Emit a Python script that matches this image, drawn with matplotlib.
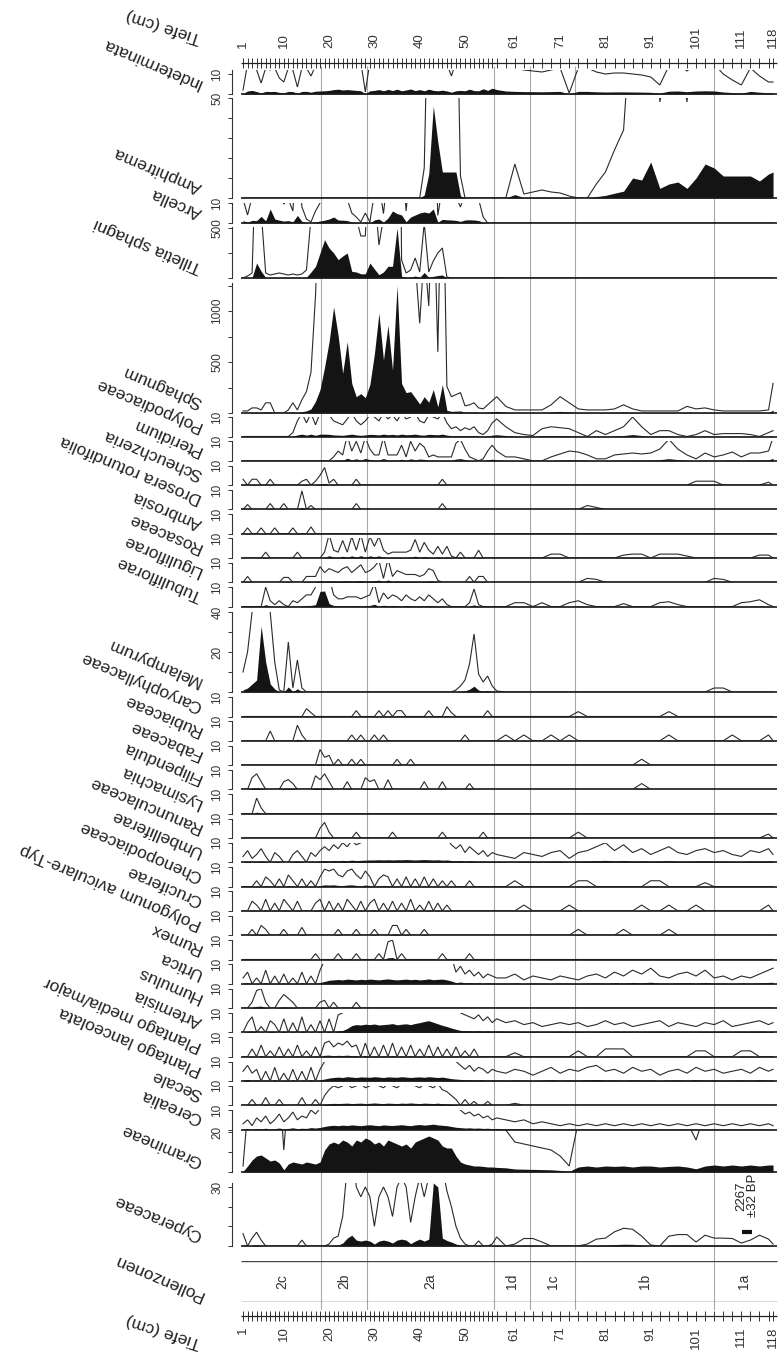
import numpy as np
import matplotlib
matplotlib.use("Agg")
import matplotlib.pyplot as plt

plt.rcParams['font.family'] = ['Liberation Sans', 'DejaVu Sans']

# ---------------- data ----------------
DEPTHS = list(range(1, 58)) + list(range(59, 118, 2)) + [118]
DEPTH_LABELS = [1, 10, 20, 30, 40, 50, 61, 71, 81, 91, 101, 111, 118]
ZONE_BOUNDS = [18.3, 28.4, 56.4, 64.4, 74.3, 105.0]
ZONE_NAMES = ['2c', '2b', '2a', '1d', '1c', '1b', '1a']
EXAG = 10

INDETERMINATA = {1: 0.2, 2: 1.5, 3: 1.8, 4: 1.2, 5: 0.55, 6: 1.3, 7: 1.2, 8: 1.3, 9: 0.8, 10: 0.6,
                 11: 1.3, 12: 1.2, 13: 0.35, 14: 1.3, 15: 1.3, 16: 0.9, 17: 1.4, 18: 1.5, 19: 1.6,
                 20: 1.8, 21: 2.2, 22: 2.4, 23: 2.0, 24: 2.2, 25: 2.0, 26: 1.8, 27: 1.6, 28: 0.1,
                 29: 1.6, 30: 1.8, 31: 2.2, 32: 1.6, 33: 2.3, 34: 1.7, 35: 2.4, 36: 1.6, 37: 2.0,
                 38: 2.5, 39: 1.7, 40: 2.2, 41: 1.6, 42: 2.4, 43: 1.8, 44: 1.6, 45: 1.9, 46: 1.5,
                 47: 0.9, 48: 1.6, 49: 1.8, 50: 1.6, 51: 2.4, 52: 1.7, 53: 1.6, 54: 2.6, 55: 1.8,
                 56: 2.9, 57: 2.2, 59: 1.5, 61: 1.3, 63: 1.2, 65: 1.15, 67: 1.1, 69: 1.2, 71: 1.3,
                 73: 0.05, 75: 1.3, 77: 1.3, 79: 1.1, 81: 1.0, 83: 1.05, 85: 1.05, 87: 1.0, 89: 0.95,
                 91: 0.85, 93: 0.45, 95: 1.4, 97: 1.5, 99: 1.15, 101: 1.5, 103: 1.6, 105: 1.5,
                 107: 1.0, 109: 0.7, 111: 0.45, 113: 1.3, 115: 0.9, 117: 0.6, 118: 0.6}
AMPHITREMA = {41: 1.5, 42: 12, 43: 46, 44: 28, 45: 13, 46: 13, 47: 13, 48: 13, 49: 1.1,
              61: 1.7, 63: 0.2, 65: 0.3, 67: 0.4, 69: 0.3, 71: 0.25, 73: 0.1,
              79: 0.7, 81: 1.3, 83: 2.4, 85: 3.4, 87: 10, 89: 9, 91: 18, 93: 4.8, 95: 7, 97: 8,
              99: 4.8, 101: 10, 103: 17, 105: 15, 107: 11, 109: 11, 111: 11, 113: 11, 115: 8.5,
              117: 12, 118: 13}
ARCELLA = {1: 1.2, 2: 0.4, 3: 1.3, 4: 1.2, 5: 3.3, 6: 1.1, 7: 7, 8: 2, 9: 1.4, 10: 0.95,
           11: 1.2, 12: 0.6, 13: 3.8, 14: 0.8, 15: 0.2, 16: 0.05, 17: 0.6, 18: 1.0, 19: 1.4,
           20: 2, 21: 3, 22: 1.5, 23: 1.4, 24: 1.2, 25: 0.5, 26: 0.3, 27: 0.05, 28: 0.5, 29: 0.05,
           30: 1.5, 31: 2, 32: 0.47, 33: 2.5, 34: 6, 35: 4.7, 36: 4, 37: 0.6, 38: 3, 39: 4,
           40: 5, 41: 5.5, 42: 5, 43: 7, 44: 0.38, 45: 1.8, 46: 1.6, 47: 1.5, 48: 1.3, 49: 0.8,
           50: 1.5, 51: 1.6, 52: 1.5, 53: 1.2, 54: 0.3}
TILLETIA = {2: 2, 3: 5, 4: 150, 5: 67, 6: 5, 7: 3, 8: 4, 9: 5, 10: 4, 11: 3, 12: 4, 13: 3,
            14: 4, 15: 8, 16: 60, 17: 117, 18: 250, 19: 383, 20: 300, 21: 250, 22: 183, 23: 220,
            24: 250, 25: 67, 26: 60, 27: 42, 28: 42, 29: 150, 30: 90, 31: 33, 32: 60, 33: 117,
            34: 117, 35: 500, 36: 18, 37: 5, 38: 8, 39: 20, 40: 6, 41: 55, 42: 6, 43: 17,
            44: 25, 45: 30, 46: 1, 57: 0.5}
SPHAGNUM = {1: 2, 2: 2, 3: 5, 4: 5, 5: 3, 6: 10, 7: 10, 8: 0, 11: 3, 12: 10, 13: 3, 14: 13,
            15: 21, 16: 40, 17: 115, 18: 230, 19: 450, 20: 700, 21: 1040, 22: 760, 23: 390,
            24: 700, 25: 290, 26: 160, 27: 190, 28: 150, 29: 280, 30: 580, 31: 980, 32: 520,
            33: 860, 34: 420, 35: 1250, 36: 290, 37: 200, 38: 210, 39: 150, 40: 88, 41: 160,
            42: 105, 43: 230, 44: 60, 45: 280, 46: 26, 47: 16, 48: 18, 49: 20, 50: 7, 51: 8,
            52: 10, 53: 5, 54: 4, 55: 8, 56: 12, 57: 16, 59: 6.5, 61: 3, 63: 3, 65: 3, 67: 3,
            69: 8, 71: 16, 73: 10, 75: 4, 77: 3, 79: 3, 81: 3, 83: 4, 85: 8, 87: 4, 89: 2,
            91: 2, 93: 2, 95: 2, 97: 2, 99: 6.5, 101: 4, 103: 5, 105: 3, 107: 2, 109: 2, 111: 2,
            113: 2, 115: 2, 117: 3, 118: 29}
POLYPODIACEAE = {12: 0.2, 13: 0.8, 14: 1.2, 15: 0.7, 16: 1.2, 17: 0.6, 18: 1.2, 19: 1.2,
                 20: 1.1, 21: 0.8, 22: 0.7, 23: 0.6, 24: 0.9, 25: 1.2, 26: 0.8, 27: 0.6, 28: 0.8,
                 29: 1.1, 30: 1.0, 31: 0.8, 32: 1.2, 33: 0.9, 34: 1.1, 35: 0.8, 36: 1.2, 37: 0.9,
                 38: 1.0, 39: 1.2, 40: 0.8, 41: 0.7, 42: 1.1, 43: 1.0, 44: 0.9, 45: 1.2, 46: 0.7,
                 47: 0.4, 48: 0.5, 49: 0.3, 50: 0.45, 51: 0.35, 52: 0.5, 53: 0.2, 54: 0.1,
                 55: 0.3, 56: 0.7, 57: 0.9, 59: 0.5, 61: 0.2, 63: 0.1, 65: 0.05, 67: 0.4,
                 69: 0.5, 71: 0.45, 73: 0.4, 75: 0.2, 79: 0.3, 81: 0.1, 83: 0.3, 85: 0.5,
                 87: 1.0, 89: 0.5, 91: 0.1, 93: 0.3, 95: 0.3, 97: 0.1, 101: 0.1, 103: 0.3,
                 105: 0.1, 107: 0.15, 109: 0.15, 111: 0.15, 113: 0.1, 117: 0.2, 118: 0.3}
PTERIDIUM = {21: 0.2, 22: 0.5, 23: 0.3, 24: 1.3, 25: 0.5, 26: 1.0, 27: 0.4, 28: 1.2, 29: 0.6,
             30: 0.3, 31: 0.3, 32: 1.2, 33: 0.3, 34: 0.3, 35: 0.3, 36: 0.8, 37: 0.2, 38: 1.0,
             39: 0.5, 40: 0.9, 41: 0.7, 42: 0.2, 43: 0.3, 44: 0.2, 45: 0.2, 46: 0.2, 47: 0.2,
             48: 0.9, 49: 1.1, 50: 0.6, 51: 0.2, 52: 0.1, 54: 0.1, 55: 0.5, 56: 0.8, 57: 0.5,
             59: 0.2, 61: 0.2, 63: 0.1, 69: 0.2, 71: 0.35, 73: 0.5, 75: 0.45, 77: 0.3, 79: 0.1,
             81: 0.1, 83: 0.3, 85: 0.35, 87: 0.4, 89: 0.35, 91: 0.4, 93: 0.6, 95: 1.1, 97: 0.6,
             99: 0.3, 101: 0.1, 103: 0.4, 105: 0.2, 107: 0.3, 109: 0.45, 111: 0.2, 113: 0.4,
             115: 0.4, 117: 0.5, 118: 1.2}
SCHEUCHZERIA = {1: 0.3, 3: 0.3, 4: 0.3, 7: 0.3, 14: 0.2, 15: 0.3, 17: 0.2, 18: 0.5, 19: 0.9,
                20: 0.1, 21: 0.3, 26: 0.3, 45: 0.3, 101: 0.2, 103: 0.2, 105: 0.2, 117: 0.15}
DROSERA = {2: 0.25, 7: 0.3, 10: 0.3, 14: 0.95, 16: 0.2, 26: 0.3, 45: 0.3, 77: 0.2, 79: 0.1}
AMBROSIA = {2: 0.3, 5: 0.3, 8: 0.3, 12: 0.3, 16: 0.35}
ROSACEAE = {6: 0.3, 13: 0.3, 19: 0.3, 20: 1.2, 21: 0.4, 22: 0.3, 23: 0.9, 24: 0.3, 25: 1.1,
            26: 0.4, 27: 1.2, 28: 0.3, 29: 1.1, 30: 0.6, 31: 1.1, 32: 0.4, 33: 0.2, 34: 0.3,
            35: 0.3, 36: 0.3, 37: 0.3, 38: 0.4, 39: 0.95, 40: 0.3, 41: 0.8, 42: 0.4, 43: 0.2,
            44: 0.6, 45: 0.2, 46: 0.6, 47: 0.1, 49: 0.3, 53: 0.4, 69: 0.2, 71: 0.2, 85: 0.15,
            87: 0.2, 89: 0.2, 93: 0.2, 95: 0.2, 97: 0.2, 99: 0.1, 115: 0.15, 117: 0.15}
LIGULIFLORAE = {2: 0.3, 10: 0.25, 11: 0.25, 15: 0.3, 16: 0.3, 17: 0.3, 18: 0.8, 19: 0.5,
                20: 0.7, 21: 0.6, 22: 0.5, 23: 0.7, 24: 0.8, 25: 0.5, 26: 0.7, 27: 0.9, 28: 0.5,
                29: 0.6, 30: 0.8, 31: 1.1, 32: 0.2, 33: 1.2, 34: 0.3, 35: 0.6, 36: 0.5, 37: 0.4,
                38: 0.4, 39: 0.4, 40: 0.3, 41: 0.4, 42: 0.7, 43: 0.6, 44: 0.1, 51: 0.3, 53: 0.3,
                54: 0.3, 77: 0.2, 79: 0.15, 105: 0.2, 107: 0.15}
TUBULIFLORAE = {6: 1.0, 7: 0.3, 8: 0.1, 9: 0.3, 10: 0.1, 12: 0.3, 13: 0.2, 14: 0.4, 15: 0.6,
                16: 0.6, 17: 1.0, 18: 7.8, 19: 8.0, 20: 1.5, 21: 0.6, 22: 0.4, 23: 0.4, 24: 0.5,
                25: 0.5, 26: 0.5, 27: 0.4, 28: 0.5, 29: 0.6, 30: 1.2, 31: 0.2, 32: 0.7, 33: 0.4,
                34: 0.6, 35: 0.5, 36: 0.3, 37: 0.6, 38: 0.4, 39: 0.3, 40: 0.5, 41: 0.3, 42: 0.6,
                43: 0.4, 44: 0.2, 45: 0.4, 46: 0.1, 51: 0.2, 52: 0.9, 53: 0.1, 61: 0.2, 63: 0.2,
                67: 0.2, 73: 0.2, 75: 0.3, 77: 0.1, 85: 0.15, 93: 0.2, 95: 0.25, 97: 0.1,
                111: 0.2, 113: 0.25, 115: 0.35, 117: 0.1}
MELAMPYRUM = {1: 1, 2: 2, 3: 4, 4: 6, 5: 33, 6: 15, 7: 4, 8: 1.5, 9: 0.1, 11: 2.5, 12: 0.2,
              13: 1.6, 14: 0.2, 48: 0.1, 49: 0.3, 50: 0.6, 51: 1.4, 52: 2.9, 53: 0.9, 54: 0.5,
              55: 0.8, 56: 0.3, 57: 0.05, 105: 0.2, 107: 0.2}
CARYOPHYLLACEAE = {15: 0.4, 16: 0.2, 26: 0.3, 31: 0.3, 33: 0.3, 35: 0.3, 36: 0.3, 42: 0.3,
                   46: 0.5, 47: 0.2, 55: 0.3, 75: 0.25, 95: 0.25}
RUBIACEAE = {7: 0.5, 13: 0.8, 14: 0.3, 25: 0.3, 27: 0.3, 30: 0.3, 32: 0.3, 50: 0.3, 59: 0.3,
             63: 0.3, 69: 0.3, 73: 0.3, 95: 0.3, 109: 0.3, 117: 0.3}
FABACEAE = {18: 0.8, 19: 0.4, 20: 0.5, 22: 0.3, 25: 0.3, 27: 0.3, 35: 0.3, 38: 0.3, 89: 0.3}
FILIPENDULA = {3: 0.6, 4: 0.8, 5: 0.4, 10: 0.4, 11: 0.5, 12: 0.3, 17: 0.7, 18: 0.5, 19: 0.8,
               20: 0.4, 24: 0.4, 28: 0.6, 29: 0.4, 30: 0.5, 33: 0.5, 41: 0.4, 45: 0.4, 51: 0.3,
               89: 0.3}
LYSIMACHIA = {4: 0.8, 5: 0.3}
RANUNCULACEAE = {18: 0.5, 19: 0.8, 20: 0.3, 26: 0.3, 34: 0.3, 45: 0.3, 54: 0.3, 75: 0.3, 117: 0.2}
UMBELLIFERAE = {1: 0.3, 2: 0.6, 3: 0.2, 4: 0.4, 5: 0.7, 6: 0.3, 8: 0.5, 9: 0.3, 12: 0.4,
                13: 0.6, 14: 0.3, 16: 0.5, 17: 0.3, 18: 0.6, 19: 0.8, 20: 0.6, 21: 0.9, 22: 0.7,
                23: 1.0, 24: 0.8, 25: 1.1, 26: 0.9, 27: 1.0, 28: 1.1, 29: 1.2, 30: 1.2, 31: 1.3,
                32: 1.2, 33: 1.3, 34: 1.2, 35: 1.3, 36: 1.3, 37: 1.4, 38: 1.3, 39: 1.2, 40: 1.3,
                41: 1.4, 42: 1.3, 43: 1.2, 44: 1.3, 45: 1.1, 46: 1.2, 47: 0.9, 48: 0.7, 49: 0.9,
                50: 0.5, 51: 0.8, 52: 0.6, 53: 0.4, 54: 0.6, 55: 0.3, 56: 0.5, 57: 0.4, 59: 0.3,
                61: 0.2, 63: 0.5, 65: 0.4, 67: 0.3, 69: 0.5, 71: 0.6, 73: 0.2, 75: 0.5, 77: 0.6,
                79: 0.8, 81: 1.0, 83: 0.6, 85: 0.9, 87: 0.5, 89: 0.7, 91: 0.4, 93: 0.6, 95: 0.8,
                97: 0.5, 99: 0.4, 101: 0.6, 103: 0.7, 105: 0.5, 107: 0.6, 109: 0.4, 111: 0.3,
                113: 0.6, 115: 0.5, 117: 0.7, 118: 0.4}
CHENOPODIACEAE = {4: 0.3, 6: 0.5, 7: 0.3, 9: 0.4, 11: 0.6, 12: 0.3, 14: 0.4, 16: 0.3, 18: 0.5,
                  19: 0.9, 20: 0.8, 21: 0.9, 22: 0.6, 23: 0.5, 24: 0.8, 25: 0.9, 26: 0.6,
                  27: 0.4, 28: 0.8, 29: 0.5, 31: 0.4, 32: 0.6, 33: 0.5, 35: 0.4, 37: 0.5,
                  39: 0.4, 41: 0.5, 43: 0.4, 45: 0.3, 47: 0.3, 51: 0.3, 61: 0.3, 75: 0.3,
                  77: 0.3, 91: 0.3, 93: 0.3, 103: 0.2}
CRUCIFERAE = {3: 0.5, 4: 0.3, 6: 0.6, 8: 0.4, 10: 0.6, 11: 0.3, 13: 0.5, 17: 0.4, 18: 0.6,
              20: 0.5, 22: 0.4, 24: 0.6, 25: 0.3, 27: 0.5, 29: 0.4, 30: 0.6, 32: 0.4, 34: 0.5,
              36: 0.4, 38: 0.6, 40: 0.3, 42: 0.5, 44: 0.4, 46: 0.3, 63: 0.3, 73: 0.3, 89: 0.3,
              95: 0.3, 101: 0.3, 117: 0.3}
POLYGONUM = {3: 0.3, 5: 0.5, 6: 0.3, 10: 0.3, 14: 0.4, 22: 0.3, 26: 0.3, 30: 0.3, 34: 0.5,
             35: 0.5, 37: 0.3, 41: 0.3, 75: 0.3, 85: 0.3, 95: 0.3}
RUMEX = {17: 0.3, 22: 0.3, 26: 0.3, 31: 0.3, 33: 0.9, 34: 1.0, 36: 0.3, 45: 0.3, 51: 0.3}
URTICA = {1: 0.3, 2: 0.6, 4: 0.3, 6: 0.7, 8: 0.4, 10: 0.5, 12: 0.3, 14: 0.6, 16: 0.4, 18: 0.7,
          19: 1.2, 20: 1.8, 21: 2.0, 22: 2.2, 23: 2.0, 24: 2.4, 25: 2.2, 26: 2.0, 27: 2.3,
          28: 2.1, 29: 2.4, 30: 2.2, 31: 2.0, 32: 2.3, 33: 2.5, 34: 2.2, 35: 2.0, 36: 2.2,
          37: 2.4, 38: 2.1, 39: 2.3, 40: 2.0, 41: 2.2, 42: 2.5, 43: 2.1, 44: 2.3, 45: 2.4,
          46: 2.0, 47: 1.4, 48: 0.6, 49: 0.9, 50: 0.5, 51: 0.7, 52: 0.4, 53: 0.6, 54: 0.3,
          55: 0.5, 56: 0.4, 57: 0.3, 59: 0.3, 61: 0.5, 63: 0.2, 65: 0.4, 67: 0.3, 69: 0.2,
          71: 0.4, 73: 0.3, 75: 0.2, 77: 0.4, 79: 0.5, 81: 0.3, 83: 0.6, 85: 0.4, 87: 0.7,
          89: 0.5, 91: 0.8, 93: 0.4, 95: 0.3, 97: 0.5, 99: 0.6, 101: 0.4, 103: 0.7, 105: 0.3,
          107: 0.4, 109: 0.2, 111: 0.4, 113: 0.3, 115: 0.5, 117: 0.7, 118: 0.8}
HUMULUS = {3: 0.3, 4: 0.9, 5: 1.0, 6: 0.3, 9: 0.4, 10: 0.7, 11: 0.5, 12: 0.3, 18: 0.3,
           19: 0.4, 21: 0.3, 26: 0.3}
ARTEMISIA = {2: 0.5, 3: 0.8, 5: 0.3, 7: 0.6, 8: 0.4, 10: 0.7, 12: 0.5, 14: 0.8, 16: 0.4,
             18: 0.6, 20: 0.7, 22: 0.9, 23: 1.0, 24: 2.0, 25: 3.5, 26: 4.0, 27: 3.8, 28: 4.2,
             29: 4.0, 30: 4.3, 31: 3.8, 32: 4.0, 33: 4.2, 34: 4.5, 35: 3.9, 36: 4.2, 37: 4.4,
             38: 4.0, 39: 4.6, 40: 5.0, 41: 5.6, 42: 6.0, 43: 5.2, 44: 4.4, 45: 3.6, 46: 3.0,
             47: 2.2, 48: 1.6, 49: 1.0, 50: 0.9, 51: 0.8, 52: 0.7, 53: 0.9, 54: 0.6, 55: 0.8,
             56: 0.5, 57: 0.7, 59: 0.5, 61: 0.6, 63: 0.4, 65: 0.5, 67: 0.3, 69: 0.4, 71: 0.5,
             73: 0.4, 75: 0.5, 77: 0.3, 79: 0.4, 81: 0.6, 83: 0.4, 85: 0.5, 87: 0.3, 89: 0.4,
             91: 0.5, 93: 0.6, 95: 0.3, 97: 0.5, 99: 0.4, 101: 0.3, 103: 0.5, 105: 0.4,
             107: 0.6, 109: 0.3, 111: 0.4, 113: 0.5, 115: 0.6, 117: 0.4, 118: 0.5}
PLANTAGO_MEDIA = {3: 0.4, 5: 0.6, 7: 0.3, 9: 0.5, 11: 0.4, 13: 0.6, 15: 0.3, 17: 0.5, 19: 0.7,
                  20: 0.8, 21: 0.5, 22: 0.7, 23: 0.6, 24: 0.8, 25: 0.5, 26: 0.6, 28: 0.7,
                  30: 0.5, 32: 0.6, 34: 0.7, 36: 0.5, 38: 0.6, 40: 0.4, 42: 0.6, 44: 0.5,
                  46: 0.4, 48: 0.5, 50: 0.3, 52: 0.4, 61: 0.2, 75: 0.3, 81: 0.4, 83: 0.4,
                  85: 0.4, 101: 0.3, 103: 0.3, 111: 0.3, 113: 0.3}
PLANTAGO_LANC = {1: 0.5, 2: 0.8, 3: 0.4, 4: 0.6, 6: 0.5, 8: 0.7, 10: 0.4, 12: 0.6, 14: 0.5,
                 16: 0.7, 18: 0.6, 19: 1.0, 20: 1.5, 21: 1.8, 22: 2.0, 23: 1.8, 24: 2.2,
                 25: 2.0, 26: 1.8, 27: 2.1, 28: 2.0, 29: 1.9, 30: 2.2, 31: 2.0, 32: 1.8,
                 33: 2.1, 34: 2.0, 35: 1.9, 36: 2.2, 37: 2.0, 38: 1.8, 39: 2.0, 40: 2.1,
                 41: 1.9, 42: 2.2, 43: 2.0, 44: 1.8, 45: 2.0, 46: 1.6, 47: 1.2, 48: 1.0,
                 49: 0.8, 50: 0.6, 51: 0.8, 52: 0.5, 53: 0.7, 54: 0.6, 55: 0.4, 56: 0.6,
                 57: 0.5, 59: 0.4, 61: 0.6, 63: 0.5, 65: 0.3, 67: 0.5, 69: 0.7, 71: 0.4,
                 73: 0.6, 75: 0.5, 77: 0.7, 79: 0.8, 81: 0.5, 83: 0.6, 85: 0.4, 87: 0.7,
                 89: 0.5, 91: 0.6, 93: 0.3, 95: 0.5, 97: 0.6, 99: 0.4, 101: 0.7, 103: 0.5,
                 105: 0.6, 107: 0.4, 109: 0.5, 111: 0.6, 113: 0.4, 115: 0.7, 117: 0.5, 118: 0.6}
SECALE = {3: 0.3, 6: 0.4, 9: 0.3, 14: 0.4, 17: 0.3, 19: 0.5, 20: 0.8, 21: 1.0, 22: 0.9,
          23: 1.0, 24: 1.1, 25: 0.9, 26: 1.0, 27: 1.1, 28: 0.9, 29: 1.0, 30: 1.2, 31: 1.0,
          32: 0.9, 33: 1.1, 34: 1.0, 35: 0.9, 36: 1.1, 37: 1.0, 38: 1.2, 39: 1.0, 40: 0.9,
          41: 1.1, 42: 1.0, 43: 0.9, 44: 1.1, 45: 0.8, 46: 0.7, 47: 0.5, 48: 0.3, 50: 0.3,
          52: 0.2, 55: 0.2, 61: 0.1}
CEREALIA = {1: 0.3, 2: 0.5, 3: 0.2, 4: 0.6, 5: 0.4, 6: 0.7, 7: 0.3, 8: 0.5, 9: 0.8, 10: 0.4,
            11: 0.6, 12: 0.9, 13: 0.5, 14: 0.7, 15: 0.6, 16: 1.0, 17: 0.8, 18: 1.1, 19: 1.6,
            20: 2.0, 21: 2.2, 22: 2.0, 23: 2.3, 24: 2.1, 25: 2.4, 26: 2.2, 27: 2.0, 28: 2.3,
            29: 2.5, 30: 2.2, 31: 2.0, 32: 2.4, 33: 2.2, 34: 2.1, 35: 2.3, 36: 2.5, 37: 2.2,
            38: 2.0, 39: 2.4, 40: 2.6, 41: 2.3, 42: 2.5, 43: 2.8, 44: 2.4, 45: 2.2, 46: 2.0,
            47: 1.6, 48: 1.2, 49: 1.0, 50: 0.8, 51: 0.9, 52: 0.7, 53: 0.8, 54: 0.6, 55: 0.7,
            56: 0.5, 57: 0.6, 59: 0.5, 61: 0.4, 63: 0.5, 65: 0.3, 67: 0.4, 69: 0.3, 71: 0.2,
            73: 0.3, 75: 0.2, 77: 0.3, 79: 0.2, 81: 0.3, 83: 0.2, 85: 0.3, 87: 0.2, 89: 0.3,
            91: 0.2, 93: 0.3, 95: 0.2, 97: 0.3, 99: 0.2, 101: 0.3, 103: 0.2, 105: 0.3,
            107: 0.2, 109: 0.3, 111: 0.2, 113: 0.3, 115: 0.2, 117: 0.3, 118: 0.2}
GRAMINEAE = {1: 0.3, 2: 3, 3: 6, 4: 8, 5: 8.5, 6: 7, 7: 5.5, 8: 6, 9: 4.5, 10: 1.1, 11: 4,
             12: 5, 13: 4.5, 14: 4, 15: 5, 16: 4.5, 17: 4, 18: 5, 19: 11, 20: 14, 21: 15,
             22: 14, 23: 16, 24: 15, 25: 13, 26: 16, 27: 15, 28: 17, 29: 16, 30: 14, 31: 15,
             32: 13, 33: 16, 34: 15, 35: 14, 36: 13, 37: 14, 38: 12, 39: 15, 40: 16, 41: 17,
             42: 18, 43: 17, 44: 16, 45: 13, 46: 12, 47: 12, 48: 8, 49: 5, 50: 4, 51: 3.5,
             52: 3, 53: 3, 54: 2.8, 55: 2.5, 56: 2.5, 57: 2.3, 59: 2.1, 61: 1.5, 63: 1.4,
             65: 1.3, 67: 1.2, 69: 1.1, 71: 0.8, 73: 0.3, 75: 2.5, 77: 3, 79: 2.5, 81: 3,
             83: 2.8, 85: 3, 87: 2.5, 89: 3, 91: 3, 93: 2.5, 95: 2.8, 97: 3, 99: 2.5, 101: 1.6,
             103: 3, 105: 3.5, 107: 3, 109: 3.5, 111: 3, 113: 3.5, 115: 3, 117: 3.5, 118: 3.5}
CYPERACEAE = {1: 0.63, 3: 0.4, 4: 0.7, 5: 0.3, 14: 0.3, 20: 0.1, 21: 0.4, 22: 0.5, 23: 1.5,
              24: 4.0, 25: 5.5, 26: 3, 27: 2.5, 28: 3.0, 29: 2.5, 30: 1.0, 31: 2.5, 32: 3.0,
              33: 2.5, 34: 1.5, 35: 3, 36: 3.5, 37: 3, 38: 1.2, 39: 2.5, 40: 3.5, 41: 2.5,
              42: 3.5, 43: 32, 44: 30, 45: 4, 46: 2.8, 47: 2, 48: 1, 49: 0.4, 50: 0.1, 53: 0.26,
              56: 0.1, 57: 0.46, 61: 0.1, 63: 0.38, 65: 0.38, 67: 0.2, 77: 0.1, 79: 0.35,
              81: 0.4, 83: 0.72, 85: 0.9, 87: 0.85, 89: 0.5, 91: 0.05, 95: 0.5, 97: 0.58,
              99: 0.58, 101: 0.2, 103: 0.55, 105: 0.4, 107: 0.4, 109: 0.38, 111: 0.15,
              113: 0.3, 115: 0.55, 117: 0.35, 118: 0.1}
DATE_LABEL = "2267\n±32 BP"
DATE_DEPTH = (111.2, 113.4)

# ---------------- layout (pixels) ----------------
W, H = 779, 1357
XLIM = (-1.5, 119.4)
X0, X1 = 231.7, 779.4

fig = plt.figure(figsize=(W / 100, H / 100), dpi=100)


def px_axes(top, base, **kw):
    return fig.add_axes([X0 / W, 1 - base / H, (X1 - X0) / W, max(base - top, 0.01) / H], **kw)


def series(spec):
    return np.array([spec.get(d, 0.0) for d in DEPTHS], dtype=float)


LABEL_KW = dict(rotation=157, rotation_mode='anchor', ha='left', va='center', fontsize=12.5,
                color='#222')

# zone lines (background)
ov = px_axes(66, 1310, zorder=0)
ov.set_xlim(*XLIM)
ov.set_ylim(0, 1)
ov.axis('off')
ov.vlines(ZONE_BOUNDS, 0, 1, color='#a8a8a8', lw=0.8)

panels = [
    ("Indeterminata", INDETERMINATA, 70, 94, 12, [0, 10], ['', '10']),
    ("Amphitrema", AMPHITREMA, 98, 198, 50, [0, 10, 20, 30, 40, 50], ['', '', '', '', '', '50']),
    ("Arcella", ARCELLA, 203, 223, 10, [0, 10], ['', '10']),
    ("Tilletia sphagni", TILLETIA, 227, 278, 510, [0, 250, 500], ['', '', '500']),
    ("Sphagnum", SPHAGNUM, 283, 413, 1275, [0, 250, 500, 750, 1000, 1250], ['', '', '500', '', '1000', '']),
]
group_a = [("Polypodiaceae", POLYPODIACEAE), ("Pteridium", PTERIDIUM),
           ("Scheuchzeria", SCHEUCHZERIA), ("Drosera rotundifolia", DROSERA),
           ("Ambrosia", AMBROSIA), ("Rosaceae", ROSACEAE), ("Liguliflorae", LIGULIFLORAE),
           ("Tubuliflorae", TUBULIFLORAE)]
for i, (n, dat) in enumerate(group_a):
    t = 417 + i * 24.3
    panels.append((n, dat, t, t + 19.5, 10, [0, 10], ['', '10']))
panels.append(("Melampyrum", MELAMPYRUM, 612, 692, 40, [0, 10, 20, 30, 40], ['', '', '20', '', '40']))
group_b = [("Caryophyllaceae", CARYOPHYLLACEAE), ("Rubiaceae", RUBIACEAE),
           ("Fabaceae", FABACEAE), ("Filipendula", FILIPENDULA), ("Lysimachia", LYSIMACHIA),
           ("Ranunculaceae", RANUNCULACEAE), ("Umbelliferae", UMBELLIFERAE),
           ("Chenopodiaceae", CHENOPODIACEAE), ("Cruciferae", CRUCIFERAE),
           ("Polygonum aviculare-Typ", POLYGONUM), ("Rumex", RUMEX), ("Urtica", URTICA),
           ("Humulus", HUMULUS), ("Artemisia", ARTEMISIA),
           ("Plantago media/major", PLANTAGO_MEDIA), ("Plantago lanceolata", PLANTAGO_LANC),
           ("Secale", SECALE), ("Cerealia", CEREALIA)]
for i, (n, dat) in enumerate(group_b):
    t = 697 + i * 24.3
    panels.append((n, dat, t, t + 19.5, 10, [0, 10], ['', '10']))
panels.append(("Gramineae", GRAMINEAE, 1130, 1172, 21, [0, 10, 20], ['', '', '20']))
panels.append(("Cyperaceae", CYPERACEAE, 1183, 1246, 32, [0, 10, 20, 30], ['', '', '', '30']))

d = np.array(DEPTHS, dtype=float)
axes_by_name = {}
for name, dat, top, base, ymax, ticks, tlabels in panels:
    ax = px_axes(top, base, zorder=2)
    ax.patch.set_alpha(0)
    v = series(dat)
    ax.set_xlim(*XLIM)
    ax.set_ylim(0, ymax)
    ax.fill_between(d, 0, v, color='#141414', lw=0)
    ax.plot(d, v * EXAG, color='#2a2a2a', lw=0.8, solid_joinstyle='miter')
    ax.hlines(0, 0.6, 118.9, color='#1a1a1a', lw=1.2, clip_on=False)
    for s in ('top', 'right', 'bottom'):
        ax.spines[s].set_visible(False)
    ax.spines['left'].set_linewidth(0.8)
    ax.spines['left'].set_color('#333')
    ax.set_xticks([])
    ax.set_yticks(ticks)
    ax.set_yticklabels(tlabels, rotation=90, va='center', fontsize=8.5, color='#333')
    ax.tick_params(axis='y', length=3, width=0.7, pad=3, colors='#333')
    fig.text(201 / W, 1 - (base - 10) / H, name, **LABEL_KW)
    axes_by_name[name] = ax

# radiocarbon date in Cyperaceae panel
cyp = axes_by_name["Cyperaceae"]
cyp.hlines(7.2, DATE_DEPTH[0], DATE_DEPTH[1], color='#111', lw=3)
cyp.text(sum(DATE_DEPTH) / 2, 14.5, DATE_LABEL, rotation=90, ha='center', va='bottom',
         fontsize=9.5, color='#222', linespacing=0.95)

# pollen zones
pz = px_axes(1261, 1302, zorder=2)
pz.set_xlim(*XLIM)
pz.set_ylim(0, 1)
pz.axis('off')
pz.hlines([0, 1], 0.6, 118.9, color='#444', lw=1.0)
edges = [1] + ZONE_BOUNDS + [118]
for zn, a, b in zip(ZONE_NAMES, edges[:-1], edges[1:]):
    pz.text((a + b) / 2, 0.5, zn, rotation=90, ha='center', va='center', fontsize=10, color='#333')
fig.text(203 / W, 1 - 1296 / H, "Pollenzonen", **LABEL_KW)


# depth strips
def depth_strip(y, top, pad):
    ax = px_axes(y, y + 0.01, zorder=2)
    ax.patch.set_alpha(0)
    ax.set_xlim(*XLIM)
    for s in ax.spines.values():
        s.set_visible(False)
    ax.hlines(0, 0.6, 118.9, color='#222', lw=0.9, clip_on=False)
    ax.set_yticks([])
    ax.set_xticks(DEPTHS)
    ax.set_xticklabels([str(v) if v in DEPTH_LABELS else '' for v in DEPTHS],
                       rotation=90, fontsize=9.5, color='#333')
    ax.tick_params(axis='x', direction='inout', length=7, width=0.7, pad=pad, colors='#333',
                   top=top, bottom=not top, labeltop=top, labelbottom=not top)
    return ax


depth_strip(63, True, 7)
depth_strip(1316, False, 4)
fig.text(201 / W, 1 - 38 / H, "Tiefe (cm)", **dict(LABEL_KW, rotation=162))
fig.text(201 / W, 1 - 1343 / H, "Tiefe (cm)", **dict(LABEL_KW, rotation=162))

fig.savefig("out.png", dpi=100, facecolor='white')
